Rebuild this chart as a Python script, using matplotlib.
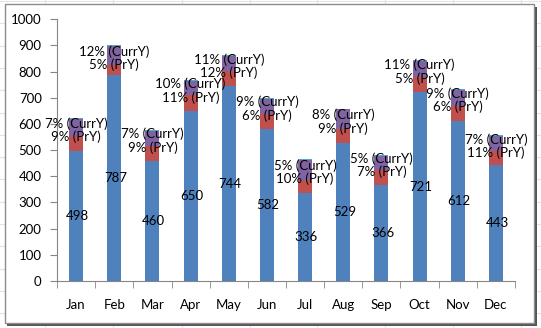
import matplotlib
matplotlib.use("Agg")
import matplotlib.pyplot as plt
from matplotlib.patches import Rectangle
import numpy as np

plt.rcParams['font.family'] = ['Lato', 'DejaVu Sans']

months = ["Jan", "Feb", "Mar", "Apr", "May", "Jun",
          "Jul", "Aug", "Sep", "Oct", "Nov", "Dec"]
sales = [498, 787, 460, 650, 744, 582, 336, 529, 366, 721, 612, 443]
pry_seg = [56, 37, 55, 60, 57, 56, 51, 53, 60, 60, 58, 53]
curry_seg = [64, 73, 60, 55, 60, 59, 76, 74, 53, 59, 61, 57]
cap_seg = [3, 3, 3, 3, 3, 3, 3, 3, 3, 3, 3, 3]
curry_pct = ["7%", "12%", "7%", "10%", "11%", "9%", "5%", "8%", "5%", "11%", "9%", "7%"]
pry_pct = ["9%", "5%", "9%", "11%", "12%", "6%", "10%", "9%", "7%", "5%", "6%", "11%"]

W, H = 541, 328
fig = plt.figure(figsize=(W / 100, H / 100), dpi=100)
fig.patch.set_facecolor("white")

# faint worksheet cell lines behind the chart
for gx in [45, 113, 182, 250, 317, 385, 453, 521]:
    fig.add_artist(plt.Line2D([gx / W, gx / W], [0, 1], color="#e2e3e4", lw=0.8, zorder=0))
for gy in np.arange(1, 328, 22.3):
    fig.add_artist(plt.Line2D([0, 1], [1 - gy / H, 1 - gy / H], color="#e2e3e4", lw=0.8, zorder=0))

# chart frame with shadow
fig.add_artist(Rectangle((7 / W, 1 - 326 / H), 530 / W, 319 / H, transform=fig.transFigure,
                         facecolor="#555555", edgecolor="none", zorder=1))
fig.add_artist(Rectangle((5 / W, 1 - 323 / H), 529 / W, 319 / H, transform=fig.transFigure,
                         facecolor="white", edgecolor="#8c8c8c", lw=1.0, zorder=2))

ax = fig.add_axes([57 / W, 1 - 281 / H, (515 - 57) / W, (281 - 19.3) / H], zorder=3)
ax.patch.set_alpha(0)

x = np.arange(len(months))
bw = 0.37
sales = np.array(sales)
pry_seg = np.array(pry_seg)
curry_seg = np.array(curry_seg)
ax.bar(x, sales, bw, color="#4f81bd")
ax.bar(x, pry_seg, bw, bottom=sales, color="#c0504d")
ax.bar(x, curry_seg, bw, bottom=sales + pry_seg, color="#8064a2")
ax.bar(x, cap_seg, bw, bottom=sales + pry_seg + curry_seg, color="#4bacc6")

for i in range(len(months)):
    ax.text(x[i] + 0.03, sales[i] / 2, str(sales[i]), ha="center", va="center",
            fontsize=9.5, color="black")
    ymid = sales[i] + pry_seg[i] + curry_seg[i] / 2
    ax.text(x[i], ymid - 10, f"{curry_pct[i]} (CurrY)\n{pry_pct[i]} (PrY)",
            ha="center", va="center", fontsize=9.5, color="black", linespacing=1.1)

ax.set_xlim(-0.5, 11.5)
ax.set_ylim(0, 1000)
ax.set_yticks(range(0, 1001, 100))
ax.set_xticks(x)
ax.set_xticklabels(months)
ax.set_xticks(np.arange(-0.5, 12, 1), minor=True)
ax.tick_params(axis="x", which="major", length=0, pad=13, labelsize=9.5)
ax.tick_params(axis="x", which="minor", length=5, color="#868686", direction="out")
ax.tick_params(axis="y", length=5, color="#868686", direction="out", labelsize=9.5, pad=6)
for s in ["top", "right"]:
    ax.spines[s].set_visible(False)
for s in ["left", "bottom"]:
    ax.spines[s].set_color("#868686")

fig.savefig("out.png", dpi=100)
